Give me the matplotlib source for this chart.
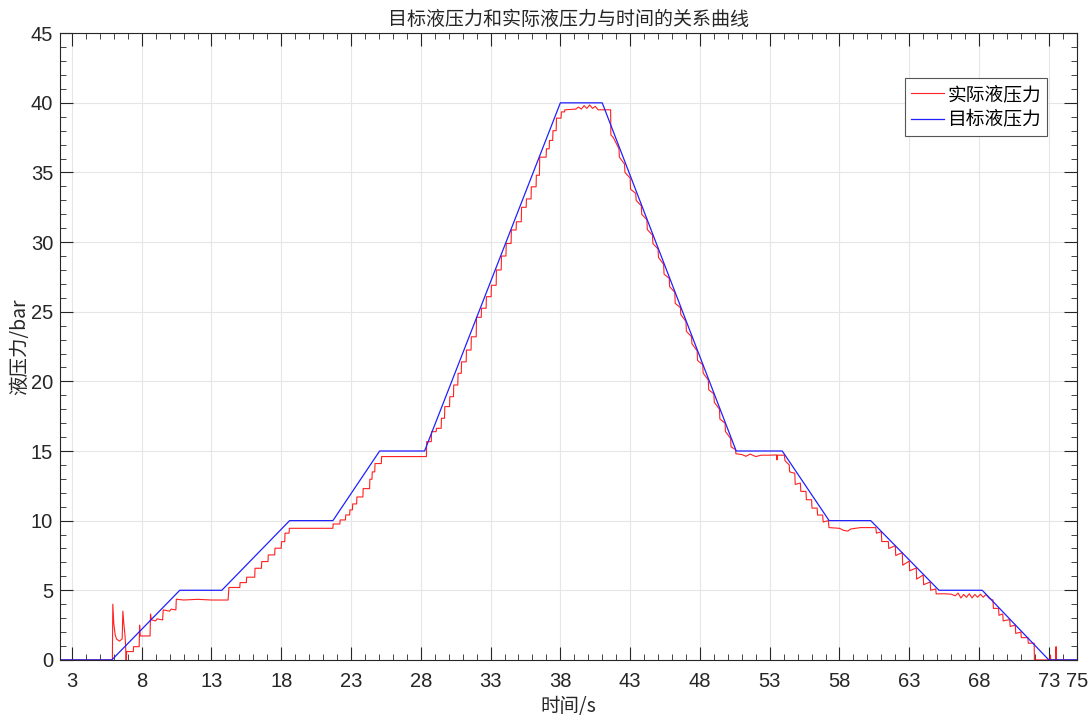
import matplotlib
matplotlib.use("Agg")
import matplotlib.pyplot as plt
from matplotlib.ticker import MultipleLocator, FixedLocator

plt.rcParams['font.family'] = ['Noto Sans CJK SC', 'DejaVu Sans']

# ---- data ----
blue_t = [2.15, 5.86, 10.73, 13.74, 18.6, 21.7, 25.05, 28.27, 38.0, 41.0,
          50.6, 53.9, 57.26, 60.24, 65.13, 68.23, 73.0, 75.0]
blue_p = [0, 0, 5, 5, 10, 10, 15, 15, 40, 40, 15, 15, 10, 10, 5, 5, 0, 0]

# actual pressure, (time, pressure) pairs, segment by segment
red_start = [(2.15, 0), (5.90, 0), (5.93, 4.0), (6.00, 2.6), (6.10, 1.8), (6.20, 1.5),
             (6.40, 1.35), (6.60, 1.5), (6.65, 3.5), (6.72, 2.6), (6.80, 1.8), (6.85, 1.0),
             (6.87, 0), (6.90, 0), (6.92, 0.6), (7.40, 0.6), (7.42, 0.95), (7.82, 0.95),
             (7.85, 2.5), (7.90, 1.72), (8.60, 1.72), (8.63, 3.3), (8.70, 2.87), (9.00, 2.8),
             (9.10, 2.95), (9.50, 2.87), (9.54, 3.59), (10.00, 3.5), (10.10, 3.65),
             (10.45, 3.59), (10.48, 4.36), (11.0, 4.3), (12.0, 4.35), (13.0, 4.3), (14.19, 4.3)]
red_rise1 = [(14.22, 4.8), (14.25, 5.2), (15.03, 5.2), (15.05, 5.55), (15.50, 5.55),
             (15.52, 5.94), (16.10, 5.94), (16.12, 6.58), (16.58, 6.58), (16.60, 7.06),
             (17.05, 7.06), (17.07, 7.54), (17.53, 7.54), (17.55, 8.02), (18.00, 8.02),
             (18.02, 8.49), (18.25, 8.49), (18.27, 9.1), (18.56, 9.1), (18.58, 9.45),
             (20.0, 9.45), (21.70, 9.45)]
red_rise2 = [(21.72, 9.76), (22.20, 9.76), (22.22, 10.05), (22.60, 10.05), (22.62, 10.41),
             (22.90, 10.41), (22.92, 10.77), (23.10, 10.77), (23.12, 11.2), (23.40, 11.2),
             (23.42, 11.7), (23.85, 11.7), (23.87, 12.3), (24.33, 12.3), (24.35, 12.97),
             (24.50, 12.97), (24.52, 13.5), (24.70, 13.5), (24.72, 14.1), (25.17, 14.1),
             (25.19, 14.6), (28.40, 14.6)]
red_rise3 = [(28.42, 15.67), (28.75, 15.67), (28.77, 16.39), (29.10, 16.39), (29.12, 16.63),
             (29.46, 16.63), (29.48, 17.35), (29.70, 17.35), (29.72, 18.19), (30.06, 18.19),
             (30.08, 18.9), (30.34, 18.9), (30.36, 19.74), (30.65, 19.74), (30.67, 20.58),
             (30.90, 20.58), (30.92, 21.4), (31.25, 21.4), (31.27, 22.25), (31.60, 22.25),
             (31.62, 23.2), (31.97, 23.2), (31.99, 24.6), (32.33, 24.6), (32.35, 25.25),
             (32.68, 25.25), (32.70, 26.08), (33.04, 26.08), (33.06, 26.9), (33.40, 26.9),
             (33.42, 28.0), (33.76, 28.0), (33.78, 29.0), (34.10, 29.0), (34.12, 29.9),
             (34.47, 29.9), (34.49, 30.87), (34.83, 30.87), (34.85, 31.46), (35.20, 31.46),
             (35.22, 32.5), (35.55, 32.5), (35.57, 33.1), (35.90, 33.1), (35.92, 33.97),
             (36.26, 33.97), (36.28, 34.8), (36.50, 34.8), (36.52, 36.1), (36.98, 36.1),
             (37.00, 36.7), (37.20, 36.7), (37.22, 37.3), (37.45, 37.3), (37.47, 38.0),
             (37.70, 38.0), (37.72, 38.9), (38.05, 38.9), (38.07, 39.35), (38.30, 39.35),
             (38.32, 39.5)]
red_top = [(39.1, 39.55), (39.3, 39.7), (39.5, 39.55), (39.7, 39.8), (39.9, 39.6),
           (40.1, 39.85), (40.3, 39.6), (40.5, 39.75), (40.7, 39.5), (41.0, 39.5), (41.6, 39.5)]
red_fall1 = [(41.62, 37.7), (41.8, 37.5), (42.2, 36.7), (42.23, 36.1), (42.6, 35.6),
             (42.63, 35.0), (43.0, 34.6), (43.03, 33.8), (43.4, 33.5), (43.43, 33.0),
             (43.8, 32.6), (43.83, 32.0), (44.2, 31.6), (44.23, 30.9), (44.6, 30.5),
             (44.63, 29.9), (45.0, 29.5), (45.03, 28.9), (45.4, 28.4), (45.43, 27.7),
             (45.8, 27.4), (45.83, 26.8), (46.2, 26.4), (46.23, 25.6), (46.6, 25.3),
             (46.63, 24.8), (47.0, 24.3), (47.03, 23.6), (47.4, 23.2), (47.43, 22.7),
             (47.8, 22.2), (47.83, 21.5), (48.2, 21.2), (48.23, 20.6), (48.6, 20.1),
             (48.63, 19.4), (49.0, 19.1), (49.03, 18.5), (49.4, 18.0), (49.43, 17.3),
             (49.8, 17.0), (49.83, 16.4), (50.2, 15.9), (50.23, 15.3), (50.55, 15.1),
             (50.58, 14.8), (51.0, 14.75), (51.3, 14.62), (51.6, 14.78), (52.0, 14.6),
             (52.4, 14.7), (53.0, 14.7), (53.5, 14.72), (53.52, 14.36), (53.55, 14.7),
             (54.05, 14.7)]
red_fall2 = [(54.1, 14.3), (54.4, 14.0), (54.43, 13.5), (54.8, 13.4), (54.83, 12.6),
             (55.2, 12.7), (55.23, 12.1), (55.6, 12.1), (55.63, 11.5), (56.0, 11.5),
             (56.03, 10.9), (56.4, 10.9), (56.43, 10.4), (56.8, 10.4), (56.83, 9.9),
             (57.2, 10.0), (57.25, 9.5), (58.0, 9.45), (58.3, 9.3), (58.6, 9.25),
             (58.8, 9.4), (59.5, 9.5), (60.6, 9.5)]
red_fall3 = [(60.65, 9.1), (61.0, 9.2), (61.03, 8.5), (61.5, 8.5), (61.53, 8.0),
             (62.0, 8.2), (62.03, 7.5), (62.5, 7.7), (62.53, 6.8), (63.0, 7.1),
             (63.03, 6.4), (63.5, 6.6), (63.53, 5.8), (64.0, 6.1), (64.03, 5.4),
             (64.5, 5.6), (64.53, 5.0), (64.9, 5.1), (64.93, 4.74), (65.5, 4.75),
             (66.0, 4.72), (66.3, 4.6), (66.5, 4.8), (66.7, 4.45), (66.9, 4.7),
             (67.1, 4.5), (67.3, 4.75), (67.5, 4.45), (67.7, 4.7), (67.9, 4.5),
             (68.1, 4.72), (68.3, 4.5), (68.5, 4.7), (68.75, 4.4)]
red_fall4 = [(69.0, 4.3), (69.03, 3.7), (69.4, 3.7), (69.43, 3.2), (69.7, 3.3),
             (69.73, 2.8), (70.2, 2.9), (70.23, 2.4), (70.6, 2.5), (70.63, 1.9),
             (71.0, 2.0), (71.03, 1.6), (71.5, 1.6), (71.53, 1.2), (71.95, 1.2),
             (71.97, 0), (73.1, 0), (73.12, 0.35), (73.14, 0), (73.5, 0),
             (73.52, 0.95), (73.54, 0), (75.0, 0)]

red_pairs = red_start + red_rise1 + red_rise2 + red_rise3 + red_top + \
    red_fall1 + red_fall2 + red_fall3 + red_fall4
red_t = [p[0] for p in red_pairs]
red_p = [p[1] for p in red_pairs]

x_ticks = [3, 8, 13, 18, 23, 28, 33, 38, 43, 48, 53, 58, 63, 68, 73, 75]
y_ticks = [0, 5, 10, 15, 20, 25, 30, 35, 40, 45]

title = "目标液压力和实际液压力与时间的关系曲线"
xlabel = "时间/s"
ylabel = "液压力/bar"
labels = ["实际液压力", "目标液压力"]

# ---- figure ----
fig = plt.figure(figsize=(10.92, 7.22), dpi=100)
ax = fig.add_axes([0.055, 0.086, 0.931, 0.868])

ax.plot(red_t, red_p, color='#ff2020', lw=0.8, label=labels[0])
ax.plot(blue_t, blue_p, color='#2020ff', lw=0.9, label=labels[1])

ax.set_xlim(2.15, 75)
ax.set_ylim(0, 45)
ax.xaxis.set_major_locator(FixedLocator(x_ticks))
ax.yaxis.set_major_locator(FixedLocator(y_ticks))
ax.xaxis.set_minor_locator(MultipleLocator(1))
ax.yaxis.set_minor_locator(MultipleLocator(1))

tick_font = ['Liberation Sans', 'DejaVu Sans']
for lab in ax.get_xticklabels() + ax.get_yticklabels():
    lab.set_family(tick_font)
    lab.set_fontsize(14.5)

ax.tick_params(which='both', direction='in', top=True, right=True, colors='#262626')
ax.tick_params(which='major', length=9.4, width=0.8)
ax.tick_params(which='minor', length=4.3, width=0.6)
ax.tick_params(axis='x', which='major', pad=9)
ax.tick_params(axis='y', which='major', pad=5)
ax.grid(True, which='major', color='#e6e6e6', lw=0.8)
ax.set_axisbelow(True)
for s in ax.spines.values():
    s.set_color('#262626')
    s.set_linewidth(0.8)

ax.set_title(title, fontsize=13.7, color='#262626', pad=6)
ax.set_xlabel(xlabel, fontsize=14, color='#262626', labelpad=3)
ax.set_ylabel(ylabel, fontsize=14, color='#262626', labelpad=0.5)

leg = ax.legend(loc='upper right', bbox_to_anchor=(0.9705, 0.928), fontsize=13.5,
                frameon=True, fancybox=False, edgecolor='#555555', framealpha=1,
                handlelength=1.75, handletextpad=0.2, borderpad=0.3, labelspacing=0.25,
                borderaxespad=0)
leg.get_frame().set_linewidth(0.8)

fig.savefig("out.png", dpi=100)
